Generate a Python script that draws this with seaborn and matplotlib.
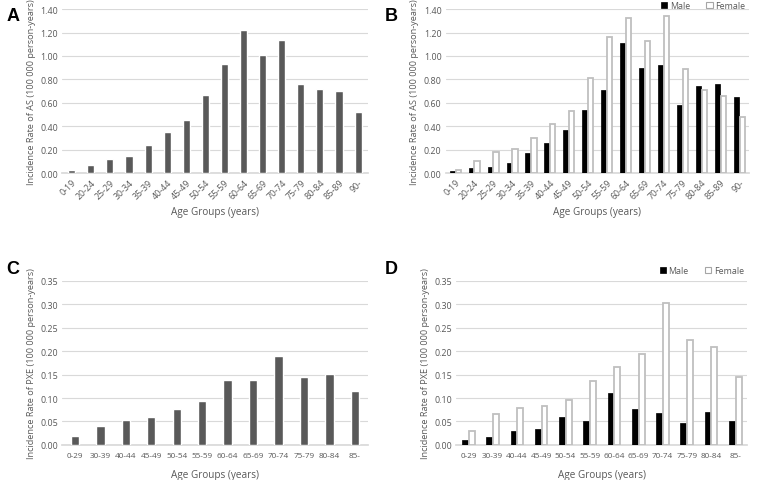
import pandas as pd
import numpy as np
import seaborn as sns
import matplotlib.pyplot as plt
from matplotlib.patches import Patch
from matplotlib.ticker import FormatStrFormatter

# AS incidence by age group (panels A and B)
as_ages = ['0-19', '20-24', '25-29', '30-34', '35-39', '40-44', '45-49', '50-54',
           '55-59', '60-64', '65-69', '70-74', '75-79', '80-84', '85-89', '90-']
as_total = [0.025, 0.07, 0.12, 0.15, 0.24, 0.35, 0.45, 0.67,
            0.93, 1.22, 1.01, 1.14, 0.76, 0.72, 0.70, 0.52]
as_male = [0.02, 0.04, 0.05, 0.09, 0.17, 0.26, 0.37, 0.54,
           0.71, 1.11, 0.90, 0.92, 0.58, 0.74, 0.76, 0.65]
as_female = [0.03, 0.10, 0.18, 0.21, 0.30, 0.42, 0.53, 0.81,
             1.16, 1.32, 1.13, 1.34, 0.89, 0.71, 0.66, 0.48]

# PXE incidence by age group (panels C and D)
pxe_ages = ['0-29', '30-39', '40-44', '45-49', '50-54', '55-59',
            '60-64', '65-69', '70-74', '75-79', '80-84', '85-']
pxe_total = [0.020, 0.040, 0.054, 0.059, 0.077, 0.094,
             0.139, 0.138, 0.190, 0.144, 0.151, 0.114]
pxe_male = [0.010, 0.016, 0.030, 0.034, 0.059, 0.050,
            0.111, 0.076, 0.067, 0.047, 0.071, 0.051]
pxe_female = [0.030, 0.066, 0.079, 0.084, 0.096, 0.137,
              0.167, 0.195, 0.302, 0.223, 0.209, 0.144]

sns.set_theme(style='white')
plt.rcParams['font.family'] = ['Open Sans', 'DejaVu Sans']

txt = '#595959'
grid = '#d9d9d9'

fig = plt.figure(figsize=(7.58, 4.81), dpi=100)
axA = fig.add_axes([0.082, 0.638, 0.403, 0.341])
axB = fig.add_axes([0.588, 0.638, 0.400, 0.341])
axC = fig.add_axes([0.082, 0.073, 0.403, 0.341])
axD = fig.add_axes([0.602, 0.073, 0.384, 0.341])


def style_axis(ax, ylabel, ymax, step, rotate):
    ax.set_ylim(0, ymax)
    ax.set_yticks(np.arange(0, ymax + step / 2, step))
    ax.yaxis.set_major_formatter(FormatStrFormatter('%.2f'))
    ax.yaxis.grid(True, color=grid, linewidth=0.8)
    ax.set_axisbelow(True)
    for s in ['top', 'right', 'left']:
        ax.spines[s].set_visible(False)
    ax.spines['bottom'].set_color(grid)
    ax.spines['bottom'].set_zorder(0)
    ax.tick_params(axis='both', length=0, labelsize=6.4, colors=txt, pad=3)
    if rotate:
        for lab in ax.get_xticklabels():
            lab.set_rotation(45)
            lab.set_ha('right')
            lab.set_rotation_mode('anchor')
    else:
        ax.tick_params(axis='x', labelsize=5.9, pad=5)
    ax.set_ylabel(ylabel, fontsize=6.6, color=txt, labelpad=3)
    ax.set_xlabel('Age Groups (years)', fontsize=7.2, color=txt, labelpad=4)


def sex_bars(ax, ages, male, female, width, gap):
    df = pd.DataFrame({'age': ages * 2,
                       'rate': male + female,
                       'sex': ['Male'] * len(ages) + ['Female'] * len(ages)})
    sns.barplot(data=df, x='age', y='rate', hue='sex', ax=ax,
                palette={'Male': 'black', 'Female': 'white'},
                width=width, gap=gap, legend=False, saturation=1)
    for bar in ax.containers[0]:
        bar.set_edgecolor('black')
        bar.set_linewidth(0.5)
    for bar in ax.containers[1]:
        bar.set_edgecolor('#bfbfbf')
        bar.set_linewidth(1.3)


# A
sns.barplot(x=as_ages, y=as_total, ax=axA, color='#595959', saturation=1, width=0.37)
style_axis(axA, 'Incidence Rate of AS (100 000 person-years)', 1.40, 0.20, True)

# B
sex_bars(axB, as_ages, as_male, as_female, 0.62, 0.12)
style_axis(axB, 'Incidence Rate of AS (100 000 person-years)', 1.40, 0.20, True)

# C
sns.barplot(x=pxe_ages, y=pxe_total, ax=axC, color='#595959', saturation=1, width=0.33)
style_axis(axC, 'Incidence Rate of PXE (100 000 person-years)', 0.35, 0.05, False)
axC.set_xlabel('Age Groups (years)', fontsize=7.2, color=txt, labelpad=7)

# D
sex_bars(axD, pxe_ages, pxe_male, pxe_female, 0.55, 0.12)
style_axis(axD, 'Incidence Rate of PXE (100 000 person-years)', 0.35, 0.05, False)
axD.set_xlabel('Age Groups (years)', fontsize=7.2, color=txt, labelpad=7)

handles = [Patch(facecolor='black', edgecolor='black', linewidth=0.5, label='Male'),
           Patch(facecolor='white', edgecolor='#a6a6a6', linewidth=0.8, label='Female')]
for ax, ypos in [(axB, 1.07), (axD, 1.11)]:
    ax.legend(handles=handles, ncol=2, frameon=False, loc='upper right',
              bbox_to_anchor=(1.0, ypos), fontsize=6.4, labelcolor=txt,
              handlelength=0.7, handleheight=0.7, handletextpad=0.3,
              columnspacing=1.8, borderaxespad=0)

for lab, x, y in [('A', 0.008, 0.965), ('B', 0.507, 0.965),
                  ('C', 0.008, 0.44), ('D', 0.507, 0.44)]:
    fig.text(x, y, lab, fontsize=13, fontweight='bold', color='black',
             family='Liberation Sans', va='center')

fig.savefig('out.png', dpi=100)
